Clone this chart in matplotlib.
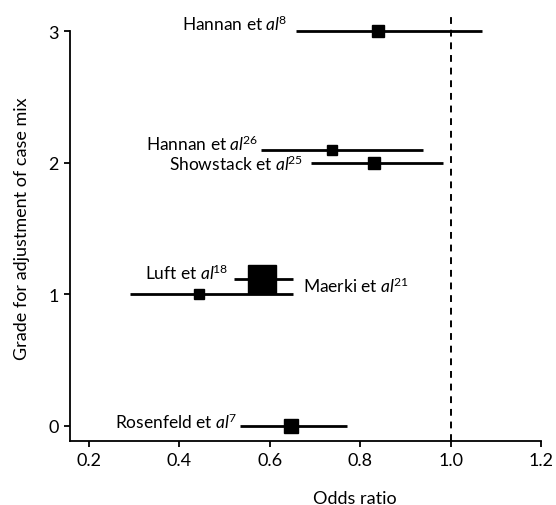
import matplotlib
matplotlib.use('Agg')
import matplotlib.pyplot as plt
from matplotlib.ticker import FormatStrFormatter

plt.rcParams['font.family'] = ['Lato', 'DejaVu Sans']
plt.rcParams['mathtext.fontset'] = 'custom'
plt.rcParams['mathtext.rm'] = 'Lato'
plt.rcParams['mathtext.it'] = 'Lato:italic'

# study estimates: odds ratio with 95% CI, plotted against grade of case-mix adjustment
names = ['Hannan', 'Hannan', 'Showstack', 'Luft', 'Maerki', 'Rosenfeld']
refs = ['8', '26', '25', '18', '21', '7']
grade = [3.0, 2.1, 2.0, 1.12, 1.0, 0.0]
odds = [0.839, 0.738, 0.831, 0.583, 0.443, 0.647]
ci_low = [0.658, 0.581, 0.691, 0.521, 0.291, 0.534]
ci_high = [1.069, 0.939, 0.983, 0.651, 0.651, 0.771]
weight = [8.0, 7.2, 8.6, 20.0, 7.0, 9.4]   # marker size ~ study weight

xticks = [0.2, 0.4, 0.6, 0.8, 1.0, 1.2]
yticks = [0, 1, 2, 3]

# label placement: (anchor end, dx px, dy px, ha)
label_pos = [('lo', -9, 8, 'right'), ('lo', -3, 6, 'right'), ('lo', -8, 0, 'right'),
             ('lo', -6, 6, 'right'), ('hi', 10, 9, 'left'), ('lo', -3, 5, 'right')]

fig = plt.figure(figsize=(5.56, 5.06), dpi=100)
ax = fig.add_axes([0.126, 0.1265, 0.847, 0.8435])

ax.axvline(1.0, color='k', lw=1.4, ls=(0, (3.5, 3)), zorder=1)

for i in range(len(names)):
    ax.plot([ci_low[i], ci_high[i]], [grade[i], grade[i]], color='k', lw=2.0,
            solid_capstyle='butt', zorder=2)
    ax.plot(odds[i], grade[i], marker='s', color='k', markersize=weight[i],
            linestyle='none', zorder=3)
    end, dx, dy, ha = label_pos[i]
    x0 = ci_low[i] if end == 'lo' else ci_high[i]
    txt = names[i] + r' et $\mathit{al}^{\!\mathrm{' + refs[i] + '}}$'
    ax.annotate(txt, xy=(x0, grade[i]), xytext=(dx, dy), textcoords='offset pixels',
                ha=ha, va='center', fontsize=12.5)

ax.set_xlim(0.158, 1.2)
ax.set_ylim(-0.114, 3.13)
ax.set_xticks(xticks)
ax.set_yticks(yticks)
ax.xaxis.set_major_formatter(FormatStrFormatter('%.1f'))
ax.spines['top'].set_visible(False)
ax.spines['right'].set_visible(False)
ax.spines['left'].set_bounds(-0.114, 3)
ax.spines['bottom'].set_bounds(0.158, 1.2)
for s in ['left', 'bottom']:
    ax.spines[s].set_linewidth(1.3)
ax.tick_params(direction='out', length=4, width=1.3, labelsize=13, pad=4)

ax.set_xlabel('Odds ratio', fontsize=13)
ax.set_ylabel('Grade for adjustment of case mix', fontsize=13)
ax.xaxis.set_label_coords(0.605, -0.115)
ax.yaxis.set_label_coords(-0.085, 0.5)

fig.savefig('out.png', dpi=100)
